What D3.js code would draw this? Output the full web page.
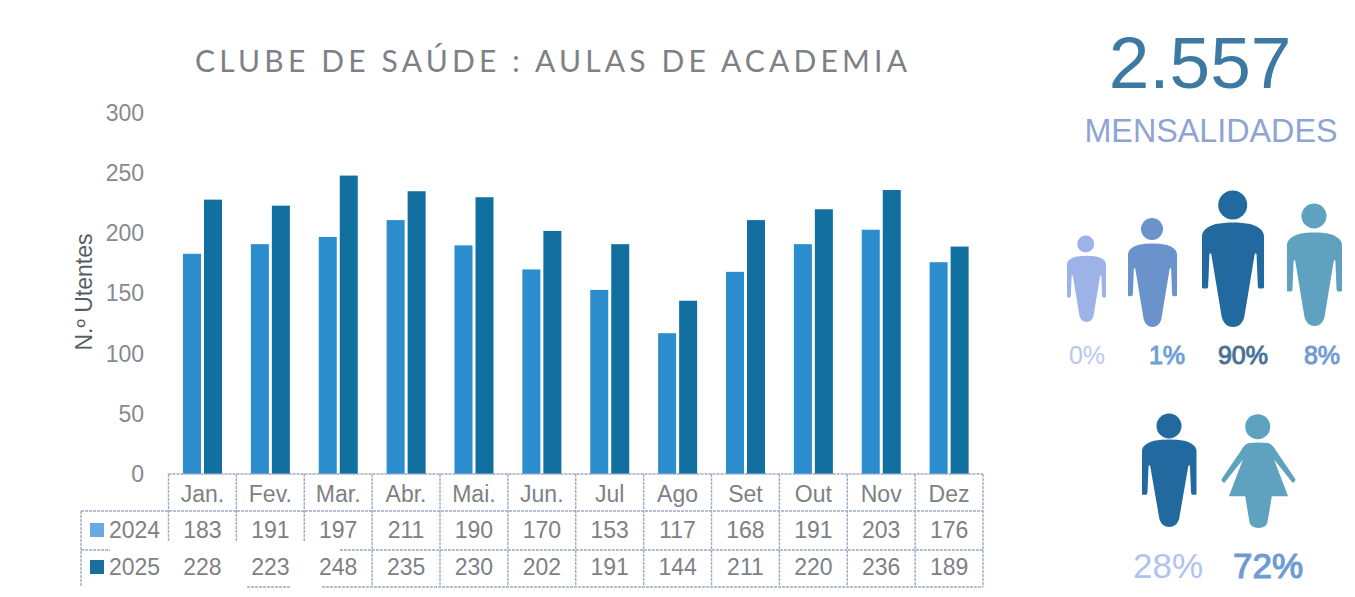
<!DOCTYPE html>
<html>
<head>
<meta charset="utf-8">
<script src="https://cdn.jsdelivr.net/npm/d3@7"></script>
<style>
    html, body {margin: 0; padding: 0; background: #fff; overflow: hidden;}
    text {font-family: "Liberation Sans", Arial, sans-serif;}
</style>
</head>
<body>
<div id="chartDiv"></div>
<script>
"use strict";

// chart data
var months = ["Jan.", "Fev.", "Mar.", "Abr.", "Mai.", "Jun.", "Jul", "Ago", "Set", "Out", "Nov", "Dez"];
var seriesNames = ["2024", "2025"];
var values2024 = [183, 191, 197, 211, 190, 170, 153, 117, 168, 191, 203, 176];
var values2025 = [228, 223, 248, 235, 230, 202, 191, 144, 211, 220, 236, 189];
var yTicks = [0, 50, 100, 150, 200, 250, 300];

var titleText = "CLUBE DE SAÚDE : AULAS DE ACADEMIA";
var totalText = "2.557";
var totalLabel = "MENSALIDADES";
var agePercents = ["0%", "1%", "90%", "8%"];
var genderPercents = ["28%", "72%"];

// svg element parameters
var svgWidth = 1355;
var svgHeight = 597;
var plotLeft = 168.5, plotRight = 983;
var plotTop = 113, plotBottom = 474;
var rowY = [474, 511, 550, 587];
var legendLeft = 81;

var textGrey = "#7d8186";
var gridColor = "#9daac6";
var barColors = ["#2b8dcd", "#11709f"];
var swatchColors = ["#6ba9e2", "#1a6f9e"];

// unit outlines of the pictograms, body box is 0..1 on both axes
var manPath = "M0,0.13 C0,0.07 0.1,0.03 0.22,0.01 C0.4,-0.01 0.6,-0.01 0.78,0.01 C0.9,0.03 1,0.07 1,0.13 " +
              "L1,0.62 Q1,0.63 0.97,0.63 L0.93,0.63 Q0.9,0.63 0.9,0.6 L0.88,0.3 Q0.87,0.28 0.85,0.3 " +
              "L0.68,0.91 Q0.63,1 0.5,1 Q0.37,1 0.32,0.91 L0.15,0.3 Q0.13,0.28 0.12,0.3 " +
              "L0.1,0.6 Q0.1,0.63 0.07,0.63 L0.03,0.63 Q0,0.63 0,0.62 Z";
var womanPath = "M0.36,0.01 Q0.5,-0.01 0.64,0.01 Q0.7,0.03 0.74,0.1 L1,0.43 Q1,0.46 0.96,0.47 L0.71,0.2 " +
                "L0.9,0.63 L0.68,0.63 L0.62,0.94 Q0.6,1 0.5,1 Q0.4,1 0.38,0.94 L0.32,0.63 L0.1,0.63 " +
                "L0.29,0.2 L0.04,0.47 Q0,0.46 0,0.43 L0.26,0.1 Q0.3,0.03 0.36,0.01 Z";

// pictogram layout: body box and head circle in page pixels
var ageIcons = [
    {x: 1067, y: 256, w: 39, h: 66, hx: 1085.7, hy: 244, r: 8.5, color: "#9db3e8", labelX: 1087, labelColor: "#b7c8f0"},
    {x: 1128, y: 244, w: 49, h: 83, hx: 1152, hy: 229, r: 11, color: "#6b93cb", labelX: 1167, labelColor: "#6fa0d8"},
    {x: 1202, y: 223, w: 62, h: 104, hx: 1232.7, hy: 205, r: 14.5, color: "#22699f", labelX: 1243, labelColor: "#4a7298"},
    {x: 1287, y: 233, w: 55, h: 93, hx: 1314, hy: 216, r: 12.5, color: "#5fa2bf", labelX: 1322, labelColor: "#719cd6"}
];
var genderIcons = [
    {x: 1142, y: 440, w: 54.5, h: 87, hx: 1169, hy: 426, r: 12.5, color: "#22699f", path: manPath, labelX: 1168, labelColor: "#afc2f0"},
    {x: 1221.5, y: 442.5, w: 74, h: 85.5, hx: 1257.7, hy: 426.7, r: 12.5, color: "#5fa2bf", path: womanPath, labelX: 1268, labelColor: "#6f9bd2"}
];

var svg = d3.select("#chartDiv").append("svg").attr("width", svgWidth).attr("height", svgHeight);

// scales
var xMonth = d3.scaleBand().domain(months).range([plotLeft, plotRight]);
var xSeries = d3.scaleBand().domain(seriesNames).range([14.5, 53.5]).paddingInner(0.143);
var y = d3.scaleLinear().domain([0, 300]).range([plotBottom, plotTop]);

drawTitle();
drawAxis();
drawBars();
drawTable();
drawPanel();

function drawTitle() {
    svg.append("text")
        .attr("x", 195)
        .attr("y", 72)
        .attr("textLength", 712)
        .attr("lengthAdjust", "spacing")
        .style("font-family", "Lato, sans-serif")
        .style("font-size", "30px")
        .attr("fill", textGrey)
        .text(titleText);
}

function drawAxis() {
    var axis = svg.append("g")
        .attr("transform", "translate(146,0)")
        .call(d3.axisLeft(y).tickValues(yTicks).tickSize(0).tickPadding(2));
    axis.select(".domain").remove();
    axis.selectAll("text")
        .style("font-family", "'Liberation Sans', Arial, sans-serif")
        .style("font-size", "23px")
        .attr("fill", "#868a8e");

    svg.append("text")
        .attr("transform", "translate(92,292) rotate(-90)")
        .attr("text-anchor", "middle")
        .style("font-size", "23px")
        .attr("fill", "#5a5d60")
        .text("N.º Utentes");
}

function drawBars() {
    var groups = svg.append("g").attr("class", "bars").selectAll("g")
        .data(seriesNames)
        .enter().append("g")
        .attr("fill", function (d, i) {return barColors[i];});

    groups.selectAll("rect")
        .data(function (d, i) {
            var vals = i == 0 ? values2024 : values2025;
            return months.map(function (m, j) {return {month: m, series: d, value: vals[j]};});
        })
        .enter().append("rect")
        .attr("x", function (d) {return xMonth(d.month) + xSeries(d.series);})
        .attr("y", function (d) {return y(d.value);})
        .attr("width", xSeries.bandwidth())
        .attr("height", function (d) {return y(0) - y(d.value);});
}

function gridLine(x1, y1, x2, y2) {
    svg.append("line")
        .attr("x1", x1).attr("y1", y1).attr("x2", x2).attr("y2", y2)
        .attr("stroke", gridColor)
        .attr("stroke-width", 1.4)
        .attr("stroke-dasharray", "3 1");
}

function drawTable() {
    var step = xMonth.step();

    // horizontal rules, the scan lost parts of them
    gridLine(plotLeft, rowY[0], plotRight, rowY[0]);
    gridLine(legendLeft, rowY[1], plotRight, rowY[1]);
    gridLine(legendLeft, rowY[2], 110, rowY[2]);
    gridLine(340, rowY[2], plotRight, rowY[2]);
    gridLine(247, rowY[3], 290, rowY[3]);
    gridLine(322, rowY[3], plotRight, rowY[3]);
    gridLine(legendLeft, rowY[1], legendLeft, rowY[3]);

    // vertical rules
    d3.range(months.length + 1).forEach(function (i) {
        var lineX = plotLeft + i * step;
        gridLine(lineX, rowY[0], lineX, i < 3 ? 541 : rowY[3]);
    });

    // header row
    svg.append("g").selectAll("text")
        .data(months)
        .enter().append("text")
        .attr("x", function (d) {return xMonth(d) + step / 2;})
        .attr("y", 502)
        .attr("text-anchor", "middle")
        .style("font-size", "23px")
        .attr("fill", textGrey)
        .text(function (d) {return d;});

    // value rows
    [values2024, values2025].forEach(function (vals, r) {
        var baseline = r == 0 ? 538 : 575;
        svg.append("g").selectAll("text")
            .data(vals)
            .enter().append("text")
            .attr("x", function (d, i) {return xMonth(months[i]) + step / 2;})
            .attr("y", baseline)
            .attr("text-anchor", "middle")
            .style("font-size", "23px")
            .attr("fill", textGrey)
            .text(function (d) {return d;});

        svg.append("rect")
            .attr("x", 90).attr("y", baseline - 15)
            .attr("width", 14).attr("height", 14)
            .attr("fill", swatchColors[r]);

        svg.append("text")
            .attr("x", 109)
            .attr("y", baseline)
            .style("font-size", "23px")
            .attr("fill", textGrey)
            .text(seriesNames[r]);
    });
}

function drawIcon(d) {
    svg.append("path")
        .attr("d", d.path || manPath)
        .attr("transform", "translate(" + d.x + "," + d.y + ") scale(" + d.w + "," + d.h + ")")
        .attr("fill", d.color);
    svg.append("circle")
        .attr("cx", d.hx).attr("cy", d.hy).attr("r", d.r)
        .attr("fill", d.color);
}

function drawPanel() {
    svg.append("text")
        .attr("x", 1200).attr("y", 88)
        .attr("text-anchor", "middle")
        .style("font-size", "73px")
        .attr("fill", "#3d7aa3")
        .text(totalText);

    svg.append("text")
        .attr("x", 1211).attr("y", 142)
        .attr("text-anchor", "middle")
        .style("font-size", "32.3px")
        .attr("fill", "#8ea4d3")
        .text(totalLabel);

    // the scan thickened these labels, a thin stroke is closer than bold
    ageIcons.forEach(function (d, i) {
        drawIcon(d);
        svg.append("text")
            .attr("x", d.labelX).attr("y", 364)
            .attr("text-anchor", "middle")
            .style("font-size", "25px")
            .attr("fill", d.labelColor)
            .attr("stroke", d.labelColor)
            .attr("stroke-width", i == 0 ? 0 : 1)
            .text(agePercents[i]);
    });

    genderIcons.forEach(function (d, i) {
        drawIcon(d);
        svg.append("text")
            .attr("x", d.labelX).attr("y", 578)
            .attr("text-anchor", "middle")
            .style("font-size", "35px")
            .attr("fill", d.labelColor)
            .attr("stroke", d.labelColor)
            .attr("stroke-width", i == 0 ? 0 : 1.2)
            .text(genderPercents[i]);
    });
}
</script>
</body>
</html>
